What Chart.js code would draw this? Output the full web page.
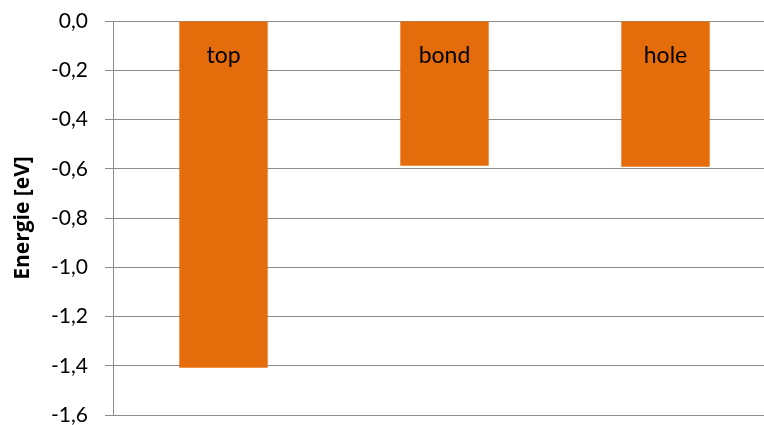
<!DOCTYPE html>
<html>
<head>
<meta charset="utf-8">
<script src="https://cdn.jsdelivr.net/npm/chart.js@4.4.1/dist/chart.umd.min.js"></script>
<style>
  html, body { margin: 0; padding: 0; background: #ffffff; overflow: hidden; }
  #wrap { width: 776px; height: 425px; }
</style>
</head>
<body>
<div id="wrap"><canvas id="c" width="776" height="425"></canvas></div>
<script>
const categories = ["top", "bond", "hole"];
const energies = [-1.408, -0.588, -0.592];
const yTicks = { min: -1.6, max: 0, step: 0.2 };
const yTitle = "Energie [eV]";

const FONT = "Lato, 'Open Sans', sans-serif";
const TITLE_FONT = "'Open Sans', Lato, sans-serif";
const GRID = "#8c8c8c";

const barLabels = {
  id: "barLabels",
  afterDatasetsDraw(chart) {
    const ctx = chart.ctx;
    const meta = chart.getDatasetMeta(0);
    const y0 = chart.scales.y.getPixelForValue(0);
    ctx.save();
    ctx.font = "23px " + FONT;
    ctx.fillStyle = "#000000";
    ctx.textAlign = "center";
    ctx.textBaseline = "alphabetic";
    meta.data.forEach((el, i) => {
      ctx.fillText(categories[i], el.x, y0 + 42);
    });
    ctx.restore();
  }
};

new Chart(document.getElementById("c"), {
  type: "bar",
  data: {
    labels: categories,
    datasets: [{
      data: energies,
      backgroundColor: "#E46C0A",
      borderWidth: 0,
      barPercentage: 0.4,
      categoryPercentage: 1.0
    }]
  },
  options: {
    responsive: false,
    animation: false,
    layout: { padding: { top: 21, bottom: 10, left: 0, right: 0 } },
    plugins: { legend: { display: false }, tooltip: { enabled: false } },
    scales: {
      x: {
        afterFit(scale) { scale.height = 0; },
        ticks: { display: false },
        grid: { display: false, drawTicks: false },
        border: { display: true, color: GRID, width: 1 }
      },
      y: {
        min: yTicks.min,
        max: yTicks.max,
        afterFit(scale) {
          scale.width = 113;
          scale.paddingTop = 0;
          scale.paddingBottom = 0;
        },
        ticks: {
          stepSize: yTicks.step,
          padding: 17,
          color: "#000000",
          font: { family: FONT, size: 21 },
          callback: (v) => v.toFixed(1).replace(".", ",").replace("-0,0", "0,0")
        },
        grid: { color: GRID, lineWidth: 1, tickLength: 8, drawTicks: true },
        border: { display: true, color: GRID, width: 1 },
        title: {
          display: true,
          text: yTitle,
          color: "#000000",
          font: { family: TITLE_FONT, size: 21, weight: "bold" },
          padding: { top: 10, bottom: 0 }
        }
      }
    }
  },
  plugins: [barLabels]
});
</script>
</body>
</html>
